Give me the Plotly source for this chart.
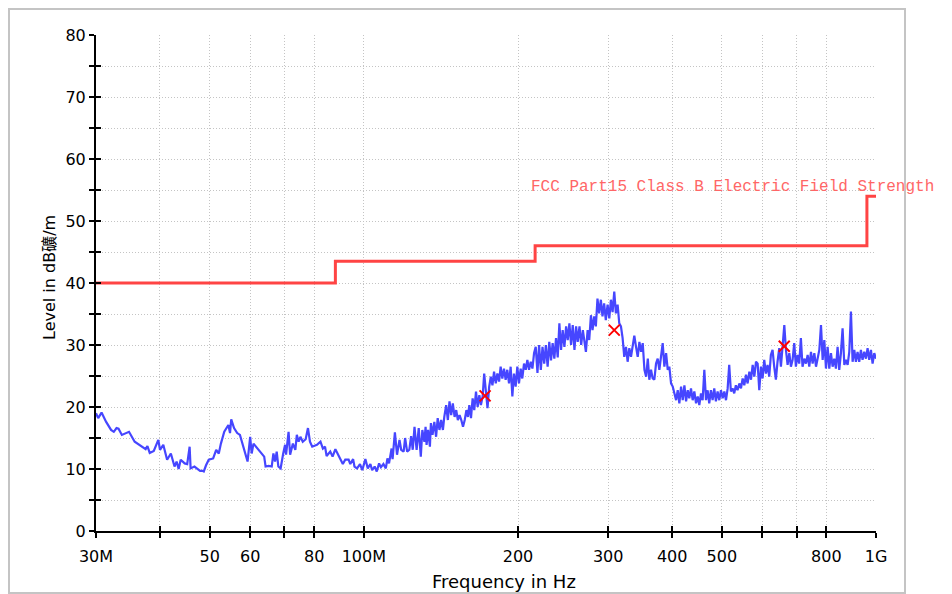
import math
import plotly.graph_objects as go

# ---------------- data ----------------
freq_mhz = [
    30.0, 30.3, 30.76, 31.4, 32.1, 32.5, 32.9, 33.2, 33.7, 34.8, 35.7, 36.9, 37.5, 37.8, 38.2, 38.9,
    39.7, 40.0, 40.6, 41.3, 42.0, 42.7, 43.1, 43.5, 43.9, 44.7, 45.2, 45.7, 45.9, 46.7, 47.2, 47.9,
    48.4, 48.7, 49.2, 49.8, 50.8, 51.5, 52.1, 52.6, 53.4, 54.0, 54.4, 54.8, 55.1, 55.8, 56.6, 57.3,
    57.9, 58.7, 59.3, 60.0, 60.4, 60.9, 62.0, 63.2, 63.9, 64.3, 65.2, 66.1, 66.6, 67.1, 67.6, 68.1,
    68.8, 69.6, 70.2, 70.5, 71.3, 71.8, 72.7, 73.5, 74.0, 74.6, 75.2, 76.0, 77.0, 77.8, 78.5, 79.3,
    80.2, 81.0, 82.3, 83.2, 84.0, 84.6, 86.0, 86.9, 88.0, 89.2, 89.8, 91.0, 92.0, 93.4, 94.1, 95.3,
    95.9, 97.0, 98.3, 99.3, 100.7, 101.8, 103.0, 103.8, 105.0, 106.0, 107.1, 108.0, 109.2, 110.4, 111.2, 112.0,
    113.3, 113.8, 115.0, 116.1, 117.4, 118.3, 119.6, 120.4, 121.5, 122.7, 123.7, 124.6, 125.6, 126.8, 128.0, 129.2,
    130.1, 131.3, 132.0, 132.6, 133.5, 134.6, 135.2, 136.2, 137.3, 138.4, 139.4, 140.5, 141.6, 142.7, 143.6, 144.8,
    145.9, 147.0, 148.1, 149.2, 150.4, 151.5, 152.6, 153.8, 155.0, 156.2, 157.4, 158.6, 159.7, 160.7, 161.9, 163.1,
    164.3, 165.6, 166.8, 168.1, 169.3, 170.6, 171.8, 173.1, 174.4, 175.7, 177.0, 178.3, 179.6, 181.0, 182.3, 183.7,
    185.0, 186.4, 187.8, 189.2, 190.6, 192.1, 193.5, 195.0, 196.4, 197.9, 199.4, 200.9, 202.4, 203.9, 205.5, 207.1,
    208.6, 210.2, 211.8, 213.4, 215.0, 216.6, 218.3, 219.9, 221.6, 223.3, 225.0, 226.7, 228.5, 230.2, 232.0, 233.7,
    235.5, 237.3, 239.1, 240.9, 242.7, 244.5, 246.4, 248.3, 250.1, 252.0, 253.9, 255.8, 257.8, 259.7, 261.6, 263.7,
    265.7, 267.7, 269.4, 271.4, 273.5, 275.5, 277.6, 279.6, 281.7, 283.8, 285.9, 288.1, 290.3, 292.4, 294.6, 296.8,
    299.2, 301.5, 303.7, 306.0, 308.3, 310.6, 313.0, 315.3, 317.7, 320.1, 322.5, 325.0, 327.4, 329.9, 332.4, 334.9,
    337.4, 340.0, 342.6, 345.2, 347.8, 350.4, 353.1, 355.8, 358.5, 360.9, 363.7, 366.4, 369.2, 372.0, 374.8, 377.6,
    380.5, 383.3, 386.2, 389.2, 392.1, 394.9, 398.0, 401.0, 404.0, 407.1, 410.1, 413.1, 416.3, 419.4, 422.6, 425.8,
    429.0, 432.0, 435.3, 438.6, 441.9, 445.3, 448.7, 451.9, 455.3, 458.7, 462.2, 465.7, 469.2, 472.5, 476.1, 479.7,
    483.3, 486.9, 490.6, 494.4, 498.1, 501.9, 505.7, 509.5, 513.3, 516.9, 520.8, 524.7, 528.7, 532.6, 536.6, 541.0,
    545.0, 549.1, 553.2, 557.4, 561.5, 565.9, 570.1, 574.4, 578.7, 583.1, 587.4, 591.7, 596.2, 600.6, 605.1, 609.7,
    614.2, 618.8, 623.4, 628.1, 632.8, 637.6, 642.3, 647.4, 652.2, 657.1, 662.2, 667.1, 672.1, 677.2, 682.2, 687.3,
    692.4, 697.6, 702.8, 708.1, 713.4, 718.7, 724.5, 729.9, 735.4, 740.9, 746.5, 752.1, 757.9, 763.6, 769.3, 775.1,
    780.9, 786.8, 792.7, 798.6, 804.6, 810.6, 816.7, 822.8, 829.0, 835.2, 841.4, 847.7, 854.1, 860.5, 867.3, 873.6,
    880.2, 886.8, 893.5, 900.1, 907.0, 913.6, 920.5, 927.4, 934.4, 941.3, 948.7, 955.8, 962.9, 970.1, 977.5, 984.8,
    992.2, 1000.0,
]

level_dbuv = [
    19.0, 18.2, 19.1, 17.6, 16.3, 16.0, 16.6, 16.5, 15.5, 16.0, 14.4, 13.6, 13.2, 13.7, 12.6, 12.9,
    14.7, 13.1, 13.9, 11.5, 12.5, 10.4, 11.2, 10.0, 11.5, 10.9, 10.8, 13.6, 10.1, 10.4, 10.1, 9.7,
    9.7, 9.6, 10.6, 11.5, 11.7, 13.1, 12.5, 14.1, 16.0, 16.8, 17.1, 15.8, 18.0, 16.6, 15.8, 15.5,
    14.1, 12.5, 11.2, 15.2, 12.5, 14.1, 13.3, 12.3, 12.0, 10.4, 10.5, 10.4, 12.5, 11.2, 12.8, 10.4,
    10.1, 12.5, 13.9, 12.3, 16.0, 12.3, 14.1, 13.1, 15.5, 14.4, 15.2, 14.4, 14.8, 16.6, 14.4, 13.6,
    13.7, 13.9, 14.4, 13.3, 13.6, 12.1, 12.8, 12.0, 13.2, 12.3, 11.6, 10.8, 11.5, 11.5, 10.8, 11.6,
    10.4, 10.1, 10.8, 9.8, 11.6, 10.1, 10.8, 9.8, 10.4, 9.6, 10.9, 10.3, 10.8, 10.1, 11.7, 10.9,
    13.3, 11.6, 15.9, 12.3, 14.7, 13.1, 12.8, 15.0, 12.8, 13.1, 15.3, 13.1, 16.8, 13.1, 16.6, 12.0,
    16.3, 14.4, 16.8, 13.9, 16.3, 13.6, 17.4, 15.5, 17.6, 15.2, 18.2, 16.3, 17.9, 16.3, 18.4, 20.3,
    17.9, 20.9, 18.7, 20.6, 18.4, 19.5, 17.9, 18.7, 17.9, 16.8, 17.9, 19.5, 18.4, 20.3, 18.2, 21.4,
    19.5, 22.5, 20.0, 21.9, 20.3, 21.7, 25.4, 22.7, 19.8, 23.3, 24.9, 23.5, 25.7, 23.8, 25.4, 24.1,
    26.5, 24.6, 26.2, 24.4, 26.0, 23.8, 26.5, 21.7, 25.4, 23.3, 26.5, 23.8, 26.2, 24.6, 27.0, 26.0,
    27.6, 26.0, 27.3, 26.2, 28.7, 29.7, 25.5, 30.0, 26.0, 29.7, 27.0, 30.0, 26.5, 30.5, 27.5, 30.3,
    27.8, 31.1, 28.0, 33.5, 29.2, 32.4, 29.7, 33.0, 30.8, 33.5, 30.0, 33.2, 29.2, 33.0, 30.5, 33.0,
    30.0, 32.4, 30.5, 28.9, 32.4, 30.8, 34.8, 32.4, 34.6, 33.0, 37.5, 35.1, 37.3, 34.6, 36.7, 34.0,
    36.5, 34.3, 37.3, 35.3, 38.6, 35.1, 36.5, 33.5, 33.0, 31.1, 28.1, 29.7, 27.3, 29.5, 28.1, 30.0,
    31.5, 29.7, 28.1, 30.5, 28.9, 30.3, 26.0, 24.9, 27.8, 24.4, 26.0, 24.6, 24.4, 27.0, 27.8, 26.0,
    28.1, 30.3, 26.5, 28.7, 26.0, 26.5, 23.8, 23.3, 22.2, 21.1, 22.7, 20.6, 23.3, 21.1, 23.5, 20.9,
    22.7, 21.4, 23.0, 21.1, 22.5, 20.6, 21.7, 20.3, 22.2, 21.1, 26.0, 21.1, 22.7, 20.6, 22.7, 21.1,
    23.0, 20.9, 22.5, 21.1, 22.7, 21.4, 22.5, 21.1, 23.0, 26.8, 22.5, 23.0, 22.2, 23.5, 22.7, 23.8,
    23.0, 24.6, 23.5, 25.2, 23.8, 25.7, 24.4, 26.8, 24.9, 27.3, 27.0, 22.7, 26.5, 24.6, 27.6, 25.4,
    26.8, 24.9, 28.4, 29.2, 26.5, 24.4, 27.3, 29.5, 26.5, 30.0, 33.2, 29.2, 26.8, 28.7, 26.5, 27.6,
    30.3, 26.5, 28.4, 27.0, 31.1, 26.5, 27.8, 27.0, 28.4, 26.5, 28.9, 27.0, 28.7, 26.5, 27.8, 29.2,
    33.2, 27.6, 30.8, 26.2, 29.7, 26.2, 28.7, 26.5, 27.8, 26.2, 29.7, 26.0, 28.7, 32.7, 26.8, 27.6,
    26.8, 28.9, 35.4, 27.3, 29.2, 27.3, 28.9, 27.3, 29.2, 27.6, 28.9, 27.8, 29.5, 27.6, 29.2, 27.0,
    28.7, 27.8,
]

limit_freq_mhz = [30.0, 88.0, 216.0, 960.0, 1000.0]
limit_level = [40.0, 43.5, 46.0, 54.0, 54.0]
limit_name = "FCC Part15 Class B Electric Field Strength"

peak_freq_mhz = [172.5, 308.3, 662.0]
peak_level = [21.8, 32.4, 29.8]

x_tick_vals = [30, 40, 50, 60, 70, 80, 100, 200, 300, 400, 500, 600, 700, 800, 1000]
x_tick_text = ["30M", "", "50", "60", "", "80", "100M", "200", "300", "400", "500", "", "", "800", "1G"]
y_tick_vals = [0, 5, 10, 15, 20, 25, 30, 35, 40, 45, 50, 55, 60, 65, 70, 75, 80]
y_tick_text = ["0", "", "10", "", "20", "", "30", "", "40", "", "50", "", "60", "", "70", "", "80"]

x_title = "Frequency in Hz"
y_title = "Level in dB礦/m"

# ---------------- figure ----------------
# the page body has an 8px default margin, so the figure is 8px smaller and
# everything is placed in page pixels minus that offset
OFF = 8
W, H = 952 - OFF, 594 - OFF
L, T = 96 - OFF, 35 - OFF
R = W - (876 - OFF)
B = H - (531 - OFF)
pw, ph = W - L - R, H - T - B


def px_to_paper(px, py):
    """page pixel -> paper coordinate"""
    fx, fy = px - OFF, py - OFF
    return (fx - L) / pw, (H - B - fy) / ph


fig = go.Figure()

fig.add_trace(go.Scatter(
    x=limit_freq_mhz, y=limit_level, mode="lines", line_shape="hv",
    line=dict(color="#FF4444", width=3), hoverinfo="skip", showlegend=False))

fig.add_trace(go.Scatter(
    x=freq_mhz, y=level_dbuv, mode="lines",
    line=dict(color="#4646FF", width=2.2), showlegend=False))

fig.add_trace(go.Scatter(
    x=peak_freq_mhz, y=peak_level, mode="markers",
    marker=dict(symbol="x-thin", size=11, line=dict(color="#FF0000", width=2)),
    showlegend=False))

# helper trace to register the overlay axes (inside ticks)
fig.add_trace(go.Scatter(x=[], y=[], xaxis="x2", yaxis="y2", showlegend=False, hoverinfo="skip"))

tick_font = dict(family="DejaVu Sans, Liberation Sans, Arial", size=16, color="black")
xr = [math.log10(30), math.log10(1000)]
grid = dict(showgrid=True, gridcolor="#C4C4C4", gridwidth=1, griddash="1px,2px")

fig.update_layout(
    width=W, height=H,
    margin=dict(l=L, r=R, t=T, b=B),
    paper_bgcolor="white", plot_bgcolor="white",
    xaxis=dict(
        type="log", range=xr, tickvals=x_tick_vals, ticktext=x_tick_text,
        ticks="outside", ticklen=5, tickwidth=2, tickcolor="black",
        showline=True, linecolor="black", linewidth=2, ticklabelstandoff=5,
        zeroline=False, tickfont=tick_font, **grid),
    yaxis=dict(
        range=[0, 80], tickvals=y_tick_vals, ticktext=y_tick_text,
        ticks="outside", ticklen=5, tickwidth=2, tickcolor="black",
        showline=True, linecolor="black", linewidth=2,
        zeroline=False, tickfont=tick_font, **grid),
    xaxis2=dict(
        type="log", range=xr, overlaying="x", anchor="y", side="bottom",
        tickvals=x_tick_vals, ticks="inside", ticklen=5, tickwidth=2, tickcolor="black",
        showticklabels=False, showgrid=False, showline=False, zeroline=False),
    yaxis2=dict(
        range=[0, 80], overlaying="y", anchor="x", side="left",
        tickvals=y_tick_vals, ticks="inside", ticklen=5, tickwidth=2, tickcolor="black",
        showticklabels=False, showgrid=False, showline=False, zeroline=False),
)

# outer frame
fx0, fy0 = px_to_paper(9, 593)
fx1, fy1 = px_to_paper(905, 9)
fig.add_shape(type="rect", xref="paper", yref="paper", x0=fx0, y0=fy0, x1=fx1, y1=fy1,
              line=dict(color="#C4C4C4", width=2), layer="below")

# axis titles
ax, ay = px_to_paper(503.5, 581)
fig.add_annotation(text=x_title, xref="paper", yref="paper", x=ax, y=ay,
                   xanchor="center", yanchor="middle", showarrow=False,
                   font=dict(family="DejaVu Sans, Liberation Sans, Arial", size=18, color="black"))
ax, ay = px_to_paper(49.5, 277.5)
fig.add_annotation(text=y_title, xref="paper", yref="paper", x=ax, y=ay, textangle=-90,
                   xanchor="center", yanchor="middle", showarrow=False,
                   font=dict(family="DejaVu Sans, Noto Sans CJK SC, Arial", size=16, color="black"))

# limit label
ax, ay = px_to_paper(529, 187)
fig.add_annotation(text=limit_name, xref="paper", yref="paper", x=ax, y=ay,
                   xanchor="left", yanchor="middle", showarrow=False,
                   font=dict(family="Liberation Mono, DejaVu Sans Mono, monospace", size=16, color="#FF6666"))

fig.write_html("out.html")
